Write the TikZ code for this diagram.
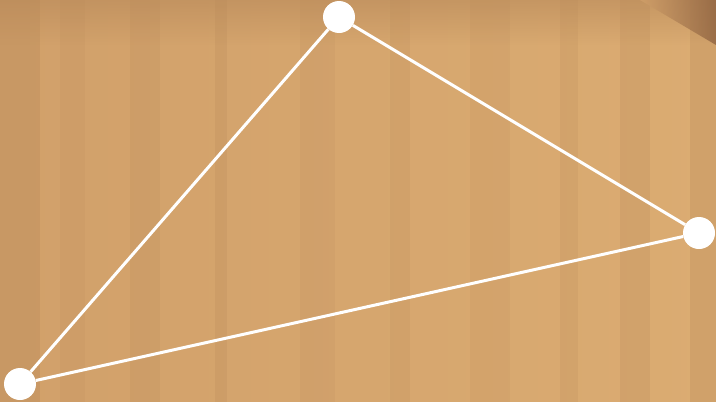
\documentclass[tikz,border=0pt]{standalone}
\usetikzlibrary{fadings}
\begin{document}
\begin{tikzpicture}[x=1pt, y=-1pt]
    \definecolor{woodLight}{HTML}{DBAC72}
    \definecolor{woodMid}{HTML}{D1A06A}
    \definecolor{woodDark}{HTML}{B98A5A}
    \definecolor{woodCorner}{HTML}{8E6240}

    \tikzset{
        vertex/.style={circle, fill=white, inner sep=0pt, minimum size=32pt},
        edge/.style={white, line width=3pt}
    }

    % Wooden background
    \useasboundingbox (0,0) rectangle (716,402);
    \shade[left color=woodMid, right color=woodLight] (0,0) rectangle (716,402);
    \fill[woodDark, opacity=0.6, path fading=south] (0,0) rectangle (716,45);

    % Planks
    \foreach \x/\w/\o in {0/40/0.35, 60/25/0.15, 130/30/0.2, 215/12/0.25, 300/35/0.15,
                          390/20/0.2, 470/40/0.15, 560/18/0.2, 620/30/0.25, 690/26/0.3}
        \fill[woodDark, opacity=\o] (\x,0) rectangle (\x+\w,402);

    % Dark top-right corner
    \shade[left color=woodMid, right color=woodCorner, opacity=0.8]
        (640,0) -- (716,0) -- (716,45) -- cycle;

    % Vertices
    \node[vertex] (top) at (339,17) {};
    \node[vertex] (right) at (699,233) {};
    \node[vertex] (left) at (20,384) {};

    % Edges
    \draw[edge] (left) -- (top);
    \draw[edge] (top) -- (right);
    \draw[edge] (right) -- (left);

\end{tikzpicture}
\end{document}
